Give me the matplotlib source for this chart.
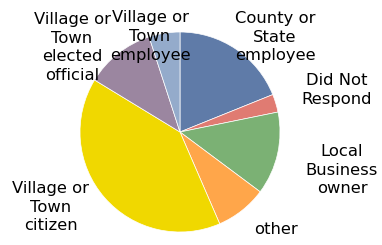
import matplotlib
matplotlib.use("Agg")
from matplotlib import pyplot as plt

# share of respondents (%), clockwise from 12 o'clock
categories = ["County or\nState\nemployee", "Did Not\nRespond", "Local\nBusiness\nowner",
              "other", "Village or\nTown\ncitizen", "Village or\nTown\nelected\nofficial",
              "Village or\nTown\nemployee"]
shares = [18.9, 2.9, 13.4, 8.3, 40.2, 11.3, 5.0]
colors = ["#5f7ba8", "#e07b72", "#7bb174", "#ffa64a", "#f0d800", "#9b86a0", "#94abcb"]

# label centres (data units, pie radius = 1)
label_pos = [(0.95, 0.95), (1.57, 0.42), (1.62, -0.38), (0.96, -0.98),
             (-1.29, -0.75), (-1.08, 0.845), (-0.30, 0.955)]

fig = plt.figure(figsize=(3.82, 2.45), dpi=100)
ax = fig.add_axes([0, 0, 1, 1])
ax.pie(shares, colors=colors, startangle=90, counterclock=False, radius=1.0,
       wedgeprops=dict(linewidth=0.5, edgecolor="white"))
for lab, (x, y) in zip(categories, label_pos):
    ax.text(x, y, lab, ha="center", va="center", fontsize=11.8,
            linespacing=1.3, color="#000000", family="DejaVu Sans")
ax.set_xlim(-1.8, 2.02)
ax.set_ylim(-1.13, 1.32)
ax.set_aspect("equal")
ax.axis("off")
fig.savefig("out.png", dpi=100)
